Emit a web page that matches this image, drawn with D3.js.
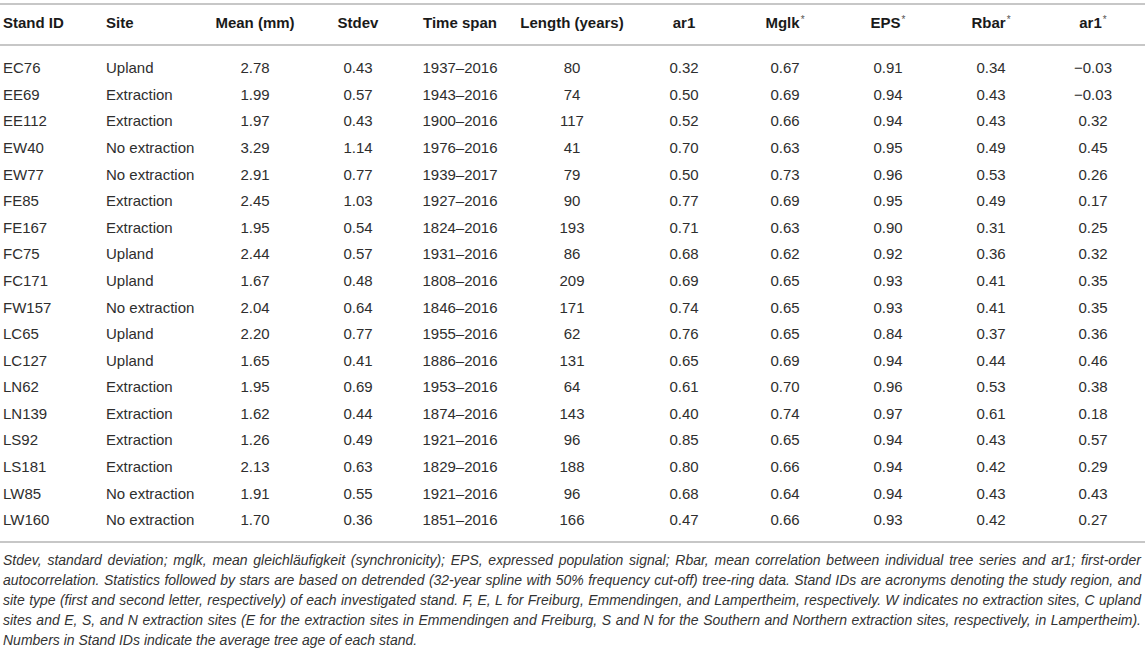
<!DOCTYPE html>
<html>
<head>
<meta charset="utf-8">
<script src="https://cdn.jsdelivr.net/npm/d3@7"></script>
<style>
    body { margin: 0; background: #fff; }
    svg text { font-family: "Liberation Sans", Arial, Helvetica, sans-serif; }
</style>
</head>
<body>
<div id="main_svg"></div>
<script>
// table values
var standIds = ["EC76", "EE69", "EE112", "EW40", "EW77", "FE85", "FE167", "FC75", "FC171",
    "FW157", "LC65", "LC127", "LN62", "LN139", "LS92", "LS181", "LW85", "LW160"];
var sites = ["Upland", "Extraction", "Extraction", "No extraction", "No extraction", "Extraction",
    "Extraction", "Upland", "Upland", "No extraction", "Upland", "Upland", "Extraction", "Extraction",
    "Extraction", "Extraction", "No extraction", "No extraction"];
var means = [2.78, 1.99, 1.97, 3.29, 2.91, 2.45, 1.95, 2.44, 1.67, 2.04, 2.20, 1.65, 1.95, 1.62, 1.26, 2.13, 1.91, 1.70];
var stdevs = [0.43, 0.57, 0.43, 1.14, 0.77, 1.03, 0.54, 0.57, 0.48, 0.64, 0.77, 0.41, 0.69, 0.44, 0.49, 0.63, 0.55, 0.36];
var timeSpans = ["1937–2016", "1943–2016", "1900–2016", "1976–2016", "1939–2017", "1927–2016",
    "1824–2016", "1931–2016", "1808–2016", "1846–2016", "1955–2016", "1886–2016", "1953–2016",
    "1874–2016", "1921–2016", "1829–2016", "1921–2016", "1851–2016"];
var lengths = [80, 74, 117, 41, 79, 90, 193, 86, 209, 171, 62, 131, 64, 143, 96, 188, 96, 166];
var ar1 = [0.32, 0.50, 0.52, 0.70, 0.50, 0.77, 0.71, 0.68, 0.69, 0.74, 0.76, 0.65, 0.61, 0.40, 0.85, 0.80, 0.68, 0.47];
var mglk = [0.67, 0.69, 0.66, 0.63, 0.73, 0.69, 0.63, 0.62, 0.65, 0.65, 0.65, 0.69, 0.70, 0.74, 0.65, 0.66, 0.64, 0.66];
var eps = [0.91, 0.94, 0.94, 0.95, 0.96, 0.95, 0.90, 0.92, 0.93, 0.93, 0.84, 0.94, 0.96, 0.97, 0.94, 0.94, 0.94, 0.93];
var rbar = [0.34, 0.43, 0.43, 0.49, 0.53, 0.49, 0.31, 0.36, 0.41, 0.41, 0.37, 0.44, 0.53, 0.61, 0.43, 0.42, 0.43, 0.42];
var ar1Star = [-0.03, -0.03, 0.32, 0.45, 0.26, 0.17, 0.25, 0.32, 0.35, 0.35, 0.36, 0.46, 0.38, 0.18, 0.57, 0.29, 0.43, 0.27];

var columnKeys = ["id", "site", "mean", "sd", "span", "len", "ar1", "mglk", "eps", "rbar", "ar1s"];
var headers = ["Stand ID", "Site", "Mean (mm)", "Stdev", "Time span", "Length (years)", "ar1", "Mglk", "EPS", "Rbar", "ar1"];
var starred = [false, false, false, false, false, false, false, true, true, true, true];

var footnote = [
    "Stdev, standard deviation; mglk, mean gleichläufigkeit (synchronicity); EPS, expressed population signal; Rbar, mean correlation between individual tree series and ar1; first-order",
    "autocorrelation. Statistics followed by stars are based on detrended (32-year spline with 50% frequency cut-off) tree-ring data. Stand IDs are acronyms denoting the study region, and",
    "site type (first and second letter, respectively) of each investigated stand. F, E, L for Freiburg, Emmendingen, and Lampertheim, respectively. W indicates no extraction sites, C upland",
    "sites and E, S, and N extraction sites (E for the extraction sites in Emmendingen and Freiburg, S and N for the Southern and Northern extraction sites, respectively, in Lampertheim).",
    "Numbers in Stand IDs indicate the average tree age of each stand."
];

var width = 1145, height = 651;
var fmt2 = d3.format(".2f");
function signed(v) { return fmt2(v).replace("-", "\u2212"); }

var svg = d3.select("#main_svg").append("svg")
    .attr("width", width)
    .attr("height", height);

// column positions and alignment
var x = d3.scaleOrdinal()
    .domain(columnKeys)
    .range([3, 106, 255, 358, 460, 572, 684, 785, 888, 991, 1093]);
var anchor = d3.scaleOrdinal()
    .domain(columnKeys)
    .range(["start", "start", "middle", "middle", "middle", "middle", "middle", "middle", "middle", "middle", "middle"]);

// row positions
var y = d3.scalePoint()
    .domain(standIds)
    .range([68, 520]);

// build the rows from the arrays
var rows = standIds.map(function (id, i) {
    return {
        id: id,
        cells: [id, sites[i], fmt2(means[i]), fmt2(stdevs[i]), timeSpans[i], lengths[i],
            fmt2(ar1[i]), fmt2(mglk[i]), fmt2(eps[i]), fmt2(rbar[i]), signed(ar1Star[i])]
    };
});

// rules
var rules = [4, 45, 542];
svg.selectAll(".rule")
    .data(rules)
    .enter().append("line")
    .attr("class", "rule")
    .attr("x1", 0)
    .attr("x2", width)
    .attr("y1", function (d) { return d; })
    .attr("y2", function (d) { return d; })
    .attr("stroke", "#b4b4b4")
    .attr("stroke-width", 1.5);

// header
var head = svg.selectAll(".head")
    .data(columnKeys)
    .enter().append("text")
    .attr("class", "head")
    .attr("x", function (d) { return x(d); })
    .attr("y", 23)
    .attr("dy", "0.35em")
    .attr("text-anchor", function (d) { return anchor(d); })
    .attr("font-size", 15)
    .attr("font-weight", "bold")
    .attr("fill", "#1a1a1a");

head.append("tspan")
    .text(function (d, i) { return headers[i]; });
head.filter(function (d, i) { return starred[i]; })
    .append("tspan")
    .attr("font-size", 10)
    .attr("font-weight", "normal")
    .attr("fill", "#555")
    .attr("dx", 1)
    .attr("dy", -5)
    .text("*");

// body cells
var row = svg.selectAll(".row")
    .data(rows)
    .enter().append("g")
    .attr("class", "row")
    .attr("transform", function (d) { return "translate(0," + y(d.id) + ")"; });

row.selectAll("text")
    .data(function (d) { return d.cells; })
    .enter().append("text")
    .attr("x", function (d, i) { return x(columnKeys[i]); })
    .attr("dy", "0.35em")
    .attr("text-anchor", function (d, i) { return anchor(columnKeys[i]); })
    .attr("font-size", 15)
    .attr("fill", "#2e2e2e")
    .text(function (d) { return d; });

// footnote, justified word by word
var noteLeft = 3, noteRight = 1141, noteSize = 14;
var noteY = d3.scalePoint()
    .domain(d3.range(footnote.length))
    .range([565, 645]);

footnote.forEach(function (line, li) {
    var words = line.split(" ");
    var g = svg.append("g").attr("class", "note");
    var t = g.selectAll("text")
        .data(words)
        .enter().append("text")
        .attr("y", noteY(li))
        .attr("font-size", noteSize)
        .attr("font-style", "italic")
        .attr("fill", "#333")
        .text(function (d) { return d; });
    var widths = [];
    t.each(function () { widths.push(this.getComputedTextLength()); });
    var total = d3.sum(widths);
    var gap = (li < footnote.length - 1) ? (noteRight - noteLeft - total) / (words.length - 1) : 3.9;
    // squeeze the words a little if the line is too long for the box
    var scale = 1;
    if (gap < 2) {
        scale = (noteRight - noteLeft - 2 * (words.length - 1)) / total;
        gap = 2;
        t.attr("font-size", noteSize * scale);
    }
    var pos = noteLeft;
    t.attr("x", function (d, i) {
        var p = pos;
        pos += widths[i] * scale + gap;
        return p;
    });
});
</script>
</body>
</html>
